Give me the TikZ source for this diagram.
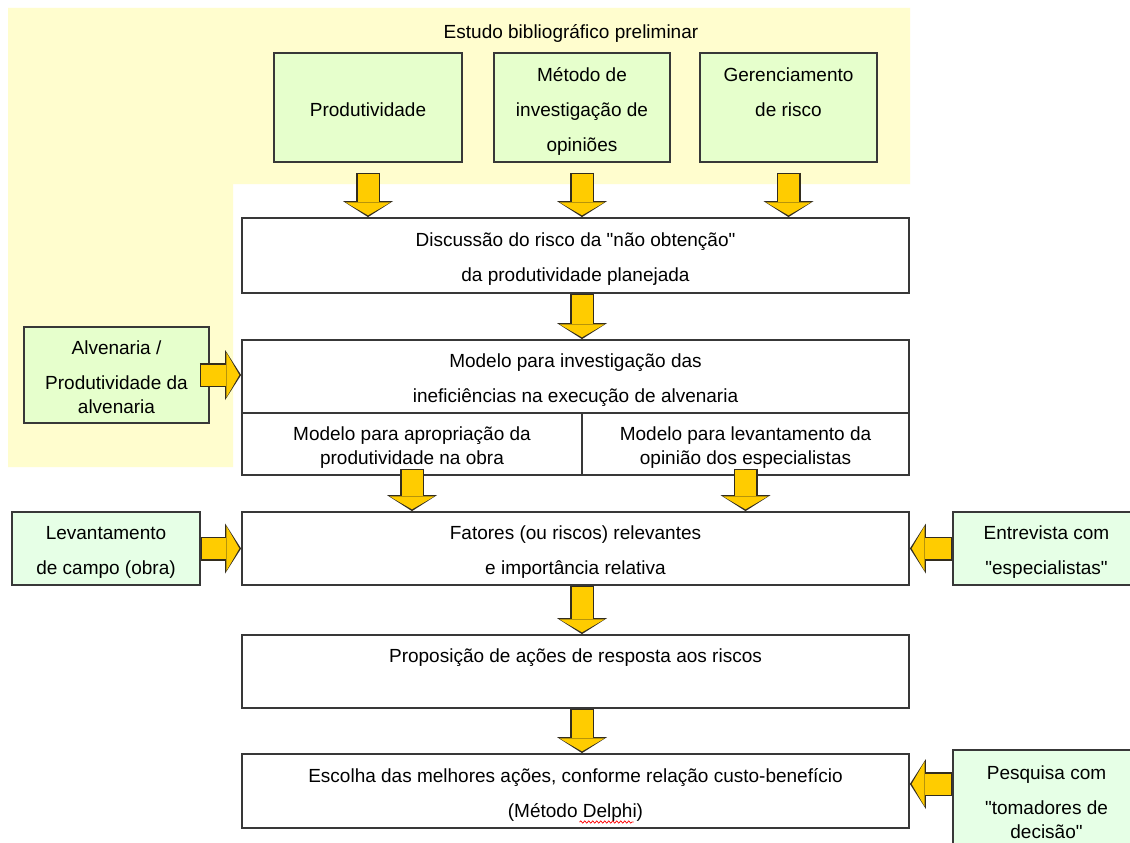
\documentclass[tikz,border=0pt]{standalone}
\usepackage{fontspec}
\newfontfamily\diagfont{Liberation Sans}
\usetikzlibrary{arrows.meta, decorations.pathmorphing, positioning}

\definecolor{paleyellow}{RGB}{255,253,206}
\definecolor{palegreen}{RGB}{230,255,204}
\definecolor{mintgreen}{RGB}{230,255,230}
\definecolor{boxedge}{RGB}{56,56,56}
\definecolor{arrowgold}{RGB}{255,204,0}
\definecolor{arrowedge}{RGB}{51,45,30}

% box text sits a little below the middle of its box
\newcommand{\lowered}[1]{\raisebox{-4pt}[\height][\depth]{\begin{tabular}{@{}c@{}}#1\end{tabular}}}

\begin{document}
\begin{tikzpicture}[x=1pt, y=-1pt, font=\diagfont\fontsize{19}{24}\selectfont]
    % Define styles for boxes and block arrows
    \tikzset{
        box/.style={draw=boxedge, line width=1.8pt, fill=white, inner sep=0pt},
        topic/.style={box, fill=palegreen},
        source/.style={box, fill=mintgreen},
        blockarrow/.style={
            preaction={draw=arrowedge, line width=24pt, shorten <=0pt, shorten >=0pt,
                -{Triangle[length=16pt, width=50pt, line width=0pt]}},
            draw=arrowgold, line width=21pt, shorten <=1.2pt, shorten >=1.8pt,
            -{Triangle[length=13pt, width=45pt, line width=0pt]}},
        spellmark/.style={draw=red, line width=0.7pt, decorate,
            decoration={snake, amplitude=1.1pt, segment length=4pt}}
    }
    \useasboundingbox (0,0) rectangle (1130,843);
    \clip (0,0) rectangle (1130,843);

    % BACKGROUND: preliminary study
    \fill[white] (0,0) rectangle (1130,843);
    \fill[paleyellow] (8,8) -- (910,8) -- (910,184) -- (233,184) -- (233,467) -- (8,467) -- cycle;
    \node (title) at (571,33) {Estudo bibliográfico preliminar};

    % TOP ROW
    \node[topic, minimum width=188pt, minimum height=109pt] (prod) at (368,107.5) {\lowered{Produtividade}};
    \node[topic, minimum width=176pt, minimum height=109pt] (metodo) at (582,107.5)
        {\lowered{Método de\\[11pt]investigação de\\[11pt]opiniões}};
    \node[topic, minimum width=177pt, minimum height=109pt] (ger) at (788.5,107.5)
        {\lowered{Gerenciamento\\[11pt]de risco\\[11pt]\mbox{}}};

    % MAIN COLUMN
    \coordinate (spine) at (582,0); % axis of the central arrows
    \node[box, minimum width=667pt, minimum height=75pt] (disc) at (575.5,255.5)
        {\lowered{Discussão do risco da "não obtenção"\\[11pt]da produtividade planejada}};
    \node[box, minimum width=667pt, minimum height=73pt] (mtop) at (575.5,376.5)
        {\lowered{Modelo para investigação das\\[11pt]ineficiências na execução de alvenaria}};
    \node[box, minimum width=340pt, minimum height=62pt] (mleft) at (412,444)
        {\lowered{Modelo para apropriação da\\produtividade na obra}};
    \node[box, minimum width=327pt, minimum height=62pt] (mright) at (745.5,444)
        {\lowered{Modelo para levantamento da\\opinião dos especialistas}};
    \node[box, minimum width=667pt, minimum height=73pt] (fat) at (575.5,548.5)
        {\lowered{Fatores (ou riscos) relevantes\\[11pt]e importância relativa}};
    \node[box, minimum width=667pt, minimum height=73pt] (prop) at (575.5,671.5)
        {\lowered{Proposição de ações de resposta aos riscos\\[11pt]\mbox{}}};
    \node[box, minimum width=667pt, minimum height=74pt] (esc) at (575.5,791)
        {\lowered{Escolha das melhores ações, conforme relação custo-benefício\\[11pt](Método Delphi)}};
    \draw[spellmark] (esc.center) ++(4,31) -- ++(54,0); % spell checker mark under "Delphi"

    % SIDE INPUTS
    \node[topic, minimum width=185pt, minimum height=96pt] (alv) at (116.5,375)
        {\lowered{Alvenaria /\\[11pt]Produtividade da\\alvenaria}};
    \node[source, minimum width=188pt, minimum height=73pt] (lev) at (106,548.5)
        {\lowered{Levantamento\\[11pt]de campo (obra)}};
    \node[source, minimum width=187pt, minimum height=73pt] (entr) at (1046.5,548.5)
        {\lowered{Entrevista com\\[11pt]"especialistas"}};
    \node[source, minimum width=187pt, minimum height=100pt] (pesq) at (1046.5,800)
        {\lowered{Pesquisa com\\[11pt]"tomadores de\\decisão"}};

    % Arrows
    \draw[blockarrow] ([yshift=-10pt]prod.south) -- (prod.south |- disc.north);
    \draw[blockarrow] ([yshift=-10pt]metodo.south) -- (metodo.south |- disc.north);
    \draw[blockarrow] ([yshift=-10pt]ger.south) -- (ger.south |- disc.north);
    \draw[blockarrow] (spine |- disc.south) -- (spine |- mtop.north);
    \draw[blockarrow] ([yshift=7pt]mleft.south) -- (mleft.south |- fat.north);
    \draw[blockarrow] ([yshift=7pt]mright.south) -- (mright.south |- fat.north);
    \draw[blockarrow] (spine |- fat.south) -- (spine |- prop.north);
    \draw[blockarrow] (spine |- prop.south) -- (spine |- esc.north);
    \draw[blockarrow] ([xshift=-10pt]alv.east) -- (alv.east -| mtop.west);
    \draw[blockarrow] (lev.east) -- (lev.east -| fat.west);
    \draw[blockarrow] (entr.west) -- (entr.west -| fat.east);
    \draw[blockarrow] ([yshift=7pt]esc.east -| pesq.west) -- ([yshift=7pt]esc.east);
\end{tikzpicture}
\end{document}
